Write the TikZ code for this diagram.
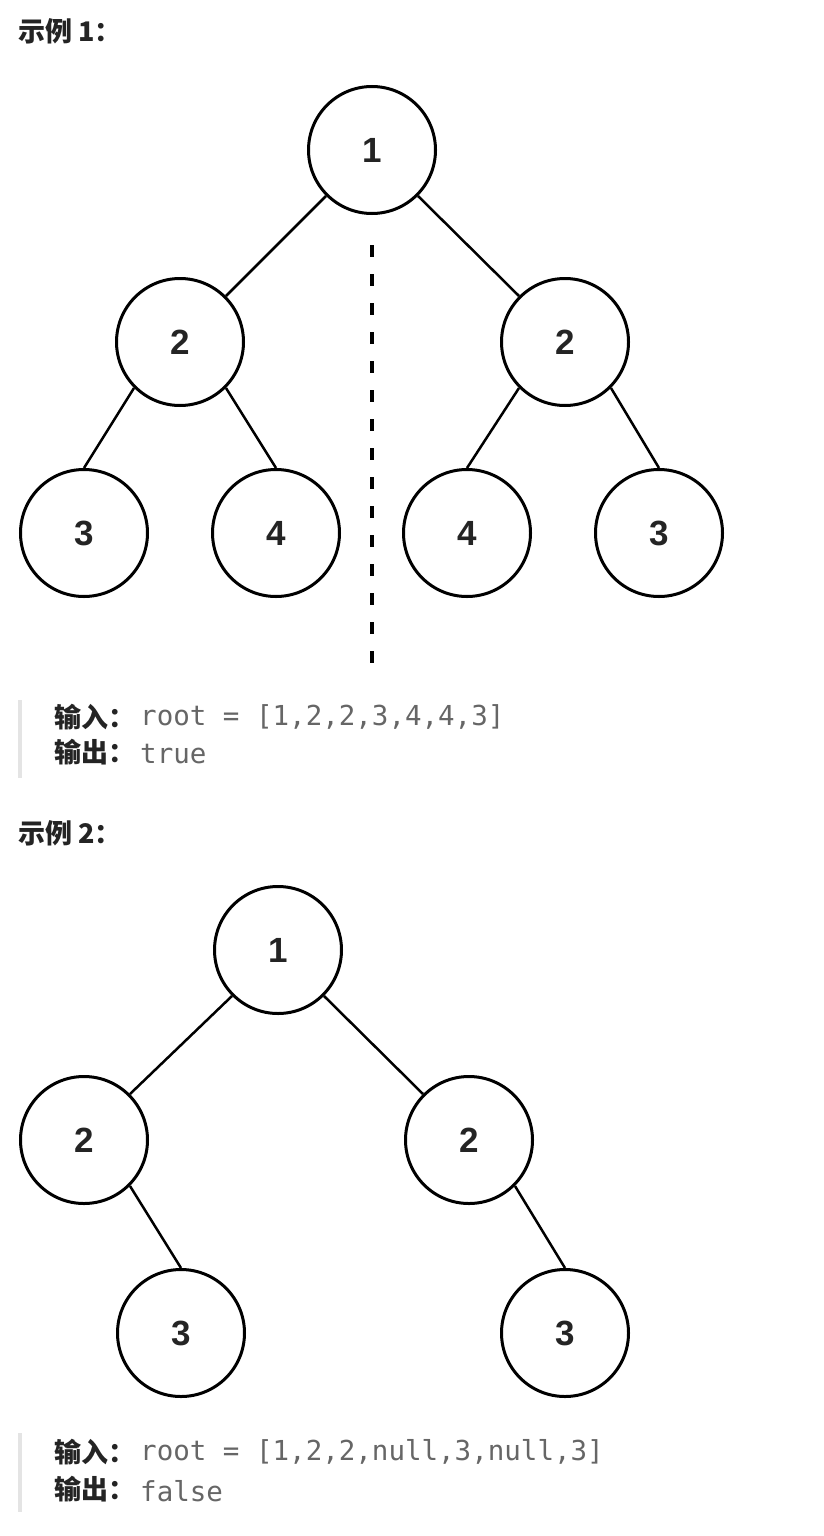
\documentclass[tikz,border=0pt]{standalone}
\usepackage{fontspec}
\setmainfont{Liberation Sans}
\newfontfamily\cjk{Noto Sans CJK SC}
\newfontfamily\codefont{DejaVu Sans Mono}
\definecolor{ink}{RGB}{36,36,36}
\definecolor{codegray}{RGB}{102,102,102}
\definecolor{quotebar}{RGB}{228,228,228}

\begin{document}
\begin{tikzpicture}[x=1pt, y=-1pt,
  treenode/.style={circle, draw, line width=3pt, minimum size=127pt, inner sep=0pt,
    font=\bfseries\fontsize{35}{35}\selectfont, text=ink},
  edge/.style={line width=2.5pt},
  heading/.style={anchor=west, inner sep=0pt, text=ink,
    font=\cjk\bfseries\fontsize{27}{27}\selectfont},
  codetext/.style={anchor=west, inner sep=0pt, text=codegray,
    font=\codefont\fontsize{27.5}{27.5}\selectfont},
  quote/.style={quotebar, line width=4pt}]
  \useasboundingbox[fill=white] (0,0) rectangle (824,1536);
  % Example 1
  \node[heading] (h1) at (18,31) {示例 1：};
  \node[treenode] (n1)  at (372,150) {1};
  \node[treenode] (nl)  at (180,342) {2};
  \node[treenode] (nr)  at (565,342) {2};
  \node[treenode] (nll) at (84,533)  {3};
  \node[treenode] (nlr) at (276,533) {4};
  \node[treenode] (nrl) at (467,533) {4};
  \node[treenode] (nrr) at (659,533) {3};
  \draw[edge] (n1.south west) -- (nl.north east);
  \draw[edge] (n1.south east) -- (nr.north west);
  \draw[edge] (nl.south west) -- (nll.north);
  \draw[edge] (nl.south east) -- (nlr.north);
  \draw[edge] (nr.south west) -- (nrl.north);
  \draw[edge] (nr.south east) -- (nrr.north);
  % Mirror axis
  \coordinate (axtop) at (372,245);
  \coordinate (axbot) at (372,663);
  \draw[line width=4pt, dash pattern=on 12pt off 17pt] (axtop) -- (axbot);
  % Input / output 1
  \draw[quote] (20,700) -- (20,778);
  \node[heading] (in1)  at (54,717) {输入：};
  \node[codetext] (c1)  at (140,717) {root = [1,2,2,3,4,4,3]};
  \node[heading] (out1) at (54,752) {输出：};
  \node[codetext] (d1)  at (140,754) {true};
  % Example 2
  \node[heading] (h2) at (18,833) {示例 2：};
  \node[treenode] (m1)  at (278,950)  {1};
  \node[treenode] (ml)  at (84,1140)  {2};
  \node[treenode] (mr)  at (469,1140) {2};
  \node[treenode] (mlr) at (181,1333) {3};
  \node[treenode] (mrr) at (565,1333) {3};
  \draw[edge] (m1.south west) -- (ml.north east);
  \draw[edge] (m1.south east) -- (mr.north west);
  \draw[edge] (ml.south east) -- (mlr.north);
  \draw[edge] (mr.south east) -- (mrr.north);
  % Input / output 2
  \draw[quote] (20,1433) -- (20,1512);
  \node[heading] (in2)  at (54,1452) {输入：};
  \node[codetext] (c2)  at (140,1452) {root = [1,2,2,null,3,null,3]};
  \node[heading] (out2) at (54,1489) {输出：};
  \node[codetext] (d2)  at (140,1491) {false};
\end{tikzpicture}
\end{document}
